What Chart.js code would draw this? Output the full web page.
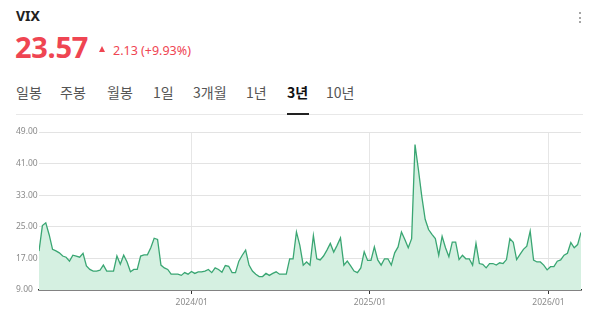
<!DOCTYPE html>
<html>
<head>
<meta charset="utf-8">
<script src="https://cdn.jsdelivr.net/npm/chart.js@4/dist/chart.umd.min.js"></script>
<style>
  html,body{margin:0;padding:0;background:#fff;width:599px;height:312px;overflow:hidden;font-family:"Noto Sans","Noto Sans CJK KR",sans-serif;}
  .abs{position:absolute;white-space:nowrap;}
  #title{left:16px;top:6px;font-size:14px;font-weight:700;color:#222;line-height:20px;}
  #price{left:15px;top:29px;font-size:29px;font-weight:700;color:#ef4552;line-height:36px;letter-spacing:-0.3px;}
  #tri{left:99px;top:46px;width:0;height:0;border-left:3.5px solid transparent;border-right:3.5px solid transparent;border-bottom:6px solid #ef4552;}
  #chg{left:113px;top:42px;font-size:12.5px;color:#ef4552;line-height:18px;}
  .tab{top:82px;font-size:14px;color:#555;line-height:20px;font-family:"Noto Sans CJK KR","Noto Sans",sans-serif;}
  .tab.on{color:#111;font-weight:700;}
  #sep{left:16px;top:114px;width:567px;height:1px;background:#e8e8e8;}
  #under{left:287px;top:113px;width:22px;height:2px;background:#222;}
  .dot{left:579px;width:2px;height:2px;background:#888;border-radius:1px;}
  #wrap{position:absolute;left:0;top:120px;width:599px;height:192px;}
</style>
</head>
<body>
<div class="abs" id="title">VIX</div>
<div class="abs" id="price">23.57</div>
<div class="abs" id="tri"></div>
<div class="abs" id="chg">2.13 (+9.93%)</div>
<div class="abs tab" style="left:16px">일봉</div>
<div class="abs tab" style="left:60px">주봉</div>
<div class="abs tab" style="left:107px">월봉</div>
<div class="abs tab" style="left:153px">1일</div>
<div class="abs tab" style="left:193px">3개월</div>
<div class="abs tab" style="left:246px">1년</div>
<div class="abs tab on" style="left:287px">3년</div>
<div class="abs tab" style="left:326px">10년</div>
<div class="abs" id="sep"></div>
<div class="abs" id="under"></div>
<div class="abs dot" style="top:12px"></div>
<div class="abs dot" style="top:17px"></div>
<div class="abs dot" style="top:21px"></div>
<div id="wrap"><canvas id="c" width="599" height="192"></canvas></div>
<script>
// Weekly VIX closes
const vixSegment2023 = [18.85, 25.3, 26.0, 23.0, 19.3, 18.9, 18.4, 17.6, 17.3, 16.3, 17.8, 17.6, 17.3, 18.3, 15.1, 14.2, 13.8, 13.8, 14.0, 15.3, 13.8, 13.8, 13.8, 17.6, 15.5, 17.8, 16.1, 13.6, 14.2, 14.2, 17.6, 17.9, 17.9, 19.7, 22.1, 21.8, 15.3, 14.6, 14.2, 13.0, 13.0, 13.0, 12.7, 13.4, 13.0, 13.7, 13.2, 13.6, 13.6];
const vixSegment2024 = [13.8, 14.2, 13.4, 14.6, 14.2, 13.5, 15.2, 15.0, 13.4, 13.4, 16.3, 17.8, 19.1, 15.3, 13.8, 13.0, 12.4, 12.4, 13.2, 12.7, 13.2, 13.6, 13.0, 13.0, 13.0, 16.9, 16.9, 23.7, 20.3, 15.3, 16.1, 15.3, 22.8, 16.9, 16.6, 17.6, 19.1, 20.8, 18.6, 20.3, 22.2, 15.3, 16.3];
const vixSegmentEarly2025 = [15.1, 13.8, 13.4, 14.6, 18.7, 16.5, 16.5, 19.9, 16.6, 15.3, 16.9, 16.9, 15.3, 18.4, 19.9, 23.7, 21.8, 19.7, 22.0, 45.8];
const vixSegmentLate2025 = [39.5, 32.7, 26.9, 24.3, 23.1, 22.0, 17.8, 22.6, 19.7, 17.4, 21.1, 21.1, 16.7, 17.8, 16.9, 16.9, 15.3, 20.8, 15.7, 15.5, 14.6, 15.7, 15.7, 15.3, 15.9, 15.7, 16.7, 22.0, 21.1, 16.7, 18.0, 19.3, 20.1, 23.9, 16.6, 16.1, 16.1, 15.3, 14.1, 14.9, 14.9, 16.3, 16.6, 17.8, 18.3, 21.0, 19.7, 20.5, 23.57];
const vixValues = [...vixSegment2023, ...vixSegment2024, ...vixSegmentEarly2025, ...vixSegmentLate2025];

// X tick labels and the week index where each starts
const xTickLabels = ['2024/01', '2025/01', '2026/01'];
const xTickWeekIndex = [45.1, 97.7, 150.4];

// Y axis ticks
const yTickValues = [9, 17, 25, 33, 41, 49];

const points = vixValues.map((v, i) => ({x: i, y: v}));
const tickFont = {family: '"Noto Sans", sans-serif', size: 8.5};

new Chart(document.getElementById('c'), {
  type: 'line',
  data: {
    datasets: [{
      data: points,
      borderColor: '#3aa673',
      borderWidth: 1.3,
      backgroundColor: 'rgba(213,240,225,1)',
      fill: 'start',
      tension: 0,
      pointRadius: 0,
      pointHoverRadius: 0
    }]
  },
  options: {
    responsive: false,
    animation: false,
    events: [],
    layout: {padding: {left: 16, right: 18, top: 12, bottom: 0}},
    plugins: {legend: {display: false}, tooltip: {enabled: false}},
    scales: {
      x: {
        type: 'linear',
        min: 0,
        max: vixValues.length - 1,
        afterBuildTicks: (s) => { s.ticks = xTickWeekIndex.map(v => ({value: v})); },
        afterFit: (s) => { s.height = 22; },
        ticks: {
          autoSkip: false,
          maxRotation: 0,
          padding: 3,
          font: tickFont,
          color: '#8a8a8a',
          callback: (v, i) => xTickLabels[i]
        },
        grid: {color: '#e6e6e6', lineWidth: 1, tickLength: 4, tickColor: '#333', drawOnChartArea: true},
        border: {display: true, color: '#222', width: 1.6}
      },
      y: {
        min: 9,
        max: 49,
        afterBuildTicks: (s) => { s.ticks = yTickValues.map(v => ({value: v})); },
        afterFit: (s) => { s.width = 23; },
        ticks: {
          crossAlign: 'far',
          padding: 0,
          font: tickFont,
          color: '#8a8a8a',
          callback: (v) => Number(v).toFixed(2)
        },
        grid: {color: '#e3e3e3', lineWidth: 1, drawTicks: false},
        border: {display: false}
      }
    }
  }
});
</script>
</body>
</html>
